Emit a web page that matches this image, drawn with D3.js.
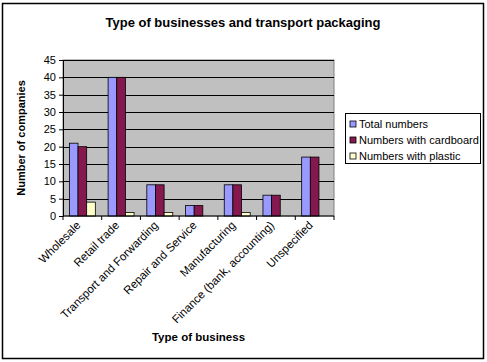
<!DOCTYPE html>
<html>
<head>
<meta charset="utf-8">
<script src="https://cdn.jsdelivr.net/npm/d3@7"></script>
<style>
  body { margin: 0; background: #fff; }
  svg text { font-family: "Liberation Sans", Arial, sans-serif; }
</style>
</head>
<body>
<svg id="chart" width="487" height="362"></svg>
<script>
const categories = ["Wholesale", "Retail trade", "Transport and Forwarding", "Repair and Service",
  "Manufacturing", "Finance (bank, accounting)", "Unspecified"];
const seriesNames = ["Total numbers", "Numbers with cardboard", "Numbers with plastic"];
const totalNumbers = [21, 40, 9, 3, 9, 6, 17];
const cardboardNumbers = [20, 40, 9, 3, 9, 6, 17];
const plasticNumbers = [4, 1, 1, 0, 1, 0, 0];
const yTicks = [0, 5, 10, 15, 20, 25, 30, 35, 40, 45];

const colors = ["#9999ff", "#85184f", "#ffffcc"];
const series = [totalNumbers, cardboardNumbers, plasticNumbers];

const svg = d3.select("#chart");
const plot = { left: 63, right: 334, top: 60, bottom: 216 };

// outer frame
svg.append("rect")
  .attr("x", 2.5).attr("y", 3.5).attr("width", 481).attr("height", 355)
  .attr("fill", "#fff").attr("stroke", "#000").attr("stroke-width", 1.5);

svg.append("text")
  .attr("x", 243).attr("y", 27)
  .attr("text-anchor", "middle")
  .attr("font-size", 13).attr("font-weight", "bold")
  .text("Type of businesses and transport packaging");

const x = d3.scaleBand().domain(categories)
  .range([plot.left, plot.right]).paddingInner(0.33).paddingOuter(0.165);
const xs = d3.scaleBand().domain(d3.range(3)).range([0, x.bandwidth()]);
const y = d3.scaleLinear().domain([0, 45]).range([plot.bottom, plot.top]);

// plot background
svg.append("rect")
  .attr("x", plot.left).attr("y", plot.top)
  .attr("width", plot.right - plot.left).attr("height", plot.bottom - plot.top)
  .attr("fill", "#c0c0c0").attr("stroke", "#808080");

// gridlines
svg.append("g").selectAll("line").data(yTicks.filter(d => d > 0)).join("line")
  .attr("x1", plot.left).attr("x2", plot.right)
  .attr("y1", d => Math.round(y(d)) + 0.5).attr("y2", d => Math.round(y(d)) + 0.5)
  .attr("stroke", "#000");

// bars
const groups = svg.append("g").selectAll("g").data(categories).join("g")
  .attr("transform", d => `translate(${x(d)},0)`);
groups.selectAll("rect")
  .data((d, i) => series.map((s, k) => ({ k, v: s[i] })).filter(e => e.v > 0))
  .join("rect")
  .attr("x", d => xs(d.k)).attr("width", xs.bandwidth())
  .attr("y", d => y(d.v)).attr("height", d => y(0) - y(d.v))
  .attr("fill", d => colors[d.k]).attr("stroke", "#000").attr("stroke-width", 0.8);

// y axis
const yAxis = svg.append("g")
  .attr("transform", `translate(${plot.left},0)`)
  .call(d3.axisLeft(y).tickValues(yTicks).tickSize(4).tickPadding(3));
yAxis.attr("font-family", null);
yAxis.select(".domain").attr("stroke", "#000");
yAxis.selectAll("text").attr("font-size", 11).attr("fill", "#000");

// x axis with ticks between categories
const xAxis = svg.append("g").attr("transform", `translate(0,${plot.bottom})`);
xAxis.append("line").attr("x1", plot.left).attr("x2", plot.right)
  .attr("stroke", "#000").attr("stroke-width", 1.2);
xAxis.selectAll(".tk").data(d3.range(categories.length + 1)).join("line")
  .attr("class", "tk")
  .attr("x1", i => plot.left + i * x.step()).attr("x2", i => plot.left + i * x.step())
  .attr("y1", 0).attr("y2", 4).attr("stroke", "#000");
xAxis.selectAll(".lbl").data(categories).join("text")
  .attr("class", "lbl")
  .attr("transform", d => `translate(${x(d) + x.bandwidth() / 2 - 1},${10}) rotate(-45)`)
  .attr("text-anchor", "end")
  .attr("font-size", 11.5)
  .text(d => d);

// axis titles
svg.append("text")
  .attr("transform", `translate(25,${(plot.top + plot.bottom) / 2}) rotate(-90)`)
  .attr("text-anchor", "middle").attr("font-size", 11).attr("font-weight", "bold")
  .text("Number of companies");
svg.append("text")
  .attr("x", (plot.left + plot.right) / 2).attr("y", 341)
  .attr("text-anchor", "middle").attr("font-size", 11.5).attr("font-weight", "bold")
  .text("Type of business");

// legend
const legend = svg.append("g").attr("transform", "translate(345,113)");
legend.append("rect").attr("x", 0.5).attr("y", 0.5).attr("width", 135).attr("height", 50)
  .attr("fill", "#fff").attr("stroke", "#000");
const items = legend.selectAll(".item").data(seriesNames).join("g")
  .attr("class", "item")
  .attr("transform", (d, i) => `translate(5,${8 + i * 16})`);
items.append("rect").attr("width", 6).attr("height", 6)
  .attr("fill", (d, i) => colors[i]).attr("stroke", "#000").attr("stroke-width", 0.8);
items.append("text").attr("x", 9).attr("y", 7)
  .attr("font-size", 11).text(d => d);
</script>
</body>
</html>
